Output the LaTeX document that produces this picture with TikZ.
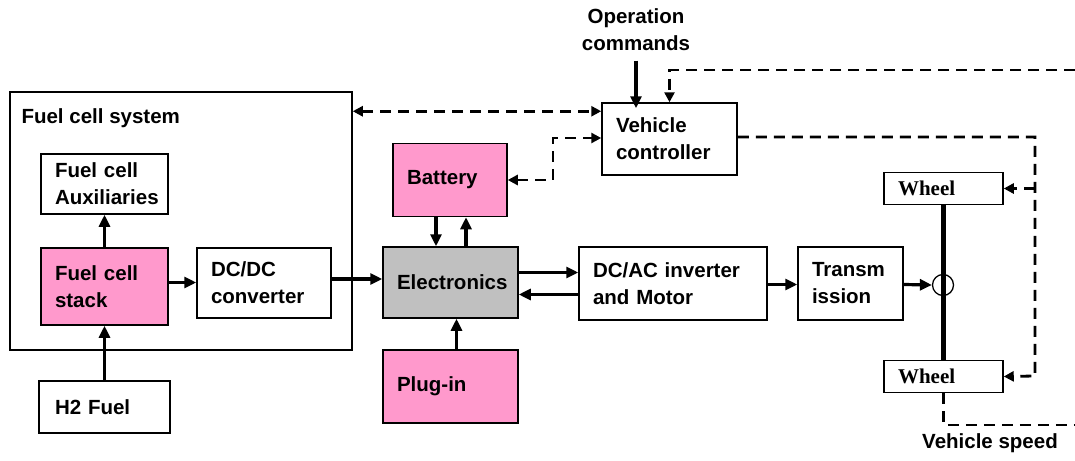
\documentclass[tikz,border=0pt]{standalone}
\usepackage{fontspec}
\setmainfont{Liberation Sans}
\newfontfamily\wheelfont{Liberation Serif}
\usetikzlibrary{arrows.meta}

\definecolor{fcpink}{RGB}{255,153,204}
\definecolor{fcgray}{RGB}{192,192,192}

\newcommand*{\xmax}{1075}
\newcommand*{\ymax}{460}

\begin{document}
\begin{tikzpicture}
[
	x=1pt, y=-1pt,
	every node/.style={font=\fontsize{20.5}{27}\selectfont\bfseries},
	blk/.style 2 args={draw, line width=1.5pt, minimum width=#1pt, minimum height=#2pt,
		inner xsep=14pt, text width=#1pt-28pt, align=left},
	pow/.style={line width=3.2pt, >={Triangle[length=12pt,width=11pt]}, ->},
	sig/.style={line width=2.8pt, dash pattern=on 11pt off 7pt, >={Triangle[length=10pt,width=10pt]}, ->},
	wheelblk/.style={blk={119}{32}, inner xsep=13pt, font=\wheelfont\fontsize{21}{22}\selectfont\bfseries}
]

	\useasboundingbox (0,0) rectangle (\xmax,\ymax);

	% fuel cell system
	\node[blk={342}{258}] (fcs) at (181,221) {};
	\node[anchor=west] (fcstitle) at (18,118) {Fuel cell system};
	\node[blk={127}{60}] (aux) at (104.5,184) {Fuel cell\\Auxiliaries};
	\node[blk={127}{77}, fill=fcpink] (stack) at (104.5,286.5) {Fuel cell\\stack};
	\node[blk={134}{70}] (dcdc) at (264,283) {DC/DC\\converter};
	\node[blk={127}{52}, inner xsep=16pt] (h2) at (104.5,407) {H2 Fuel};

	% power path
	\node[blk={135}{71}, fill=fcgray] (elec) at (450.5,282.5) {Electronics};
	\node[blk={114}{73}, fill=fcpink] (batt) at (450,180) {Battery};
	\node[blk={135}{73}, fill=fcpink] (plug) at (450.5,386.5) {Plug-in};
	\node[blk={188}{73}] (inv) at (673,283.5) {DC/AC inverter\\and Motor};
	\node[blk={105}{73}] (trans) at (850.5,283.5) {Transm\\ission};

	% controller
	\node[blk={135}{72}] (vc) at (669.5,139) {Vehicle\\controller};
	\node[align=center] (opcmd) at (636,30) {Operation\\commands};

	% wheels
	\node[wheelblk] (wt) at (943.5,188.5) {Wheel};
	\node[wheelblk] (wb) at (943.5,376.5) {Wheel};
	\draw[line width=5pt] (wt.south) -- (wb.north);
	\node[circle, draw, line width=1.3pt, minimum size=21pt, inner sep=0pt] (hub) at (943,285) {};
	\node (speed) at (990,443) {Vehicle speed};

	% solid arrows
	\draw[pow] (stack.north) -- (aux.south);
	\draw[pow] (h2.north) -- (stack.south);
	\draw[pow] ([yshift=4pt]stack.east) -- ([yshift=4pt]stack.east -| dcdc.west);
	\draw[pow] ([yshift=4pt]dcdc.east) -- ([yshift=4pt]dcdc.east -| elec.west);
	\draw[pow] ([xshift=-14pt]batt.south) -- ([xshift=-14pt]batt.south |- elec.north);
	\draw[pow] ([xshift=16pt]batt.south |- elec.north) -- ([xshift=16pt]batt.south);
	\draw[pow] ([xshift=6pt]plug.north) -- ([xshift=6pt]plug.north |- elec.south);
	\draw[pow] ([yshift=10pt]elec.east) -- ([yshift=10pt]elec.east -| inv.west);
	\draw[pow] ([yshift=-11pt]inv.west) -- ([yshift=-11pt]inv.west -| elec.east);
	\draw[pow] ([yshift=-1pt]inv.east) -- ([yshift=-1pt]inv.east -| trans.west);
	\draw[pow] ([yshift=-1pt]trans.east) -- (hub.west);
	\draw[pow] ([yshift=-6pt]opcmd.south) -- ([yshift=-6pt]opcmd.south |- vc.north);

	% signals
	\coordinate (tr) at (\xmax,70);
	\coordinate (bk) at (553,138);
	\coordinate (rb) at (1035,376);
	\coordinate (br) at (\xmax,425);
	\draw[sig] (tr) -| (vc.north);
	\draw[sig, <->] ([yshift=-20pt]fcs.north east) -- ([yshift=-20pt]fcs.north east -| vc.west);
	\draw[sig, <->] (batt.east) -| (bk) -- (bk -| vc.west);
	\draw[sig] ([yshift=2pt]vc.east) -| (rb) -- (wb.east);
	\draw[sig] (wt.east -| rb) -- (wt.east);
	\draw[sig, -] (wb.south) |- (br);

\end{tikzpicture}
\end{document}
